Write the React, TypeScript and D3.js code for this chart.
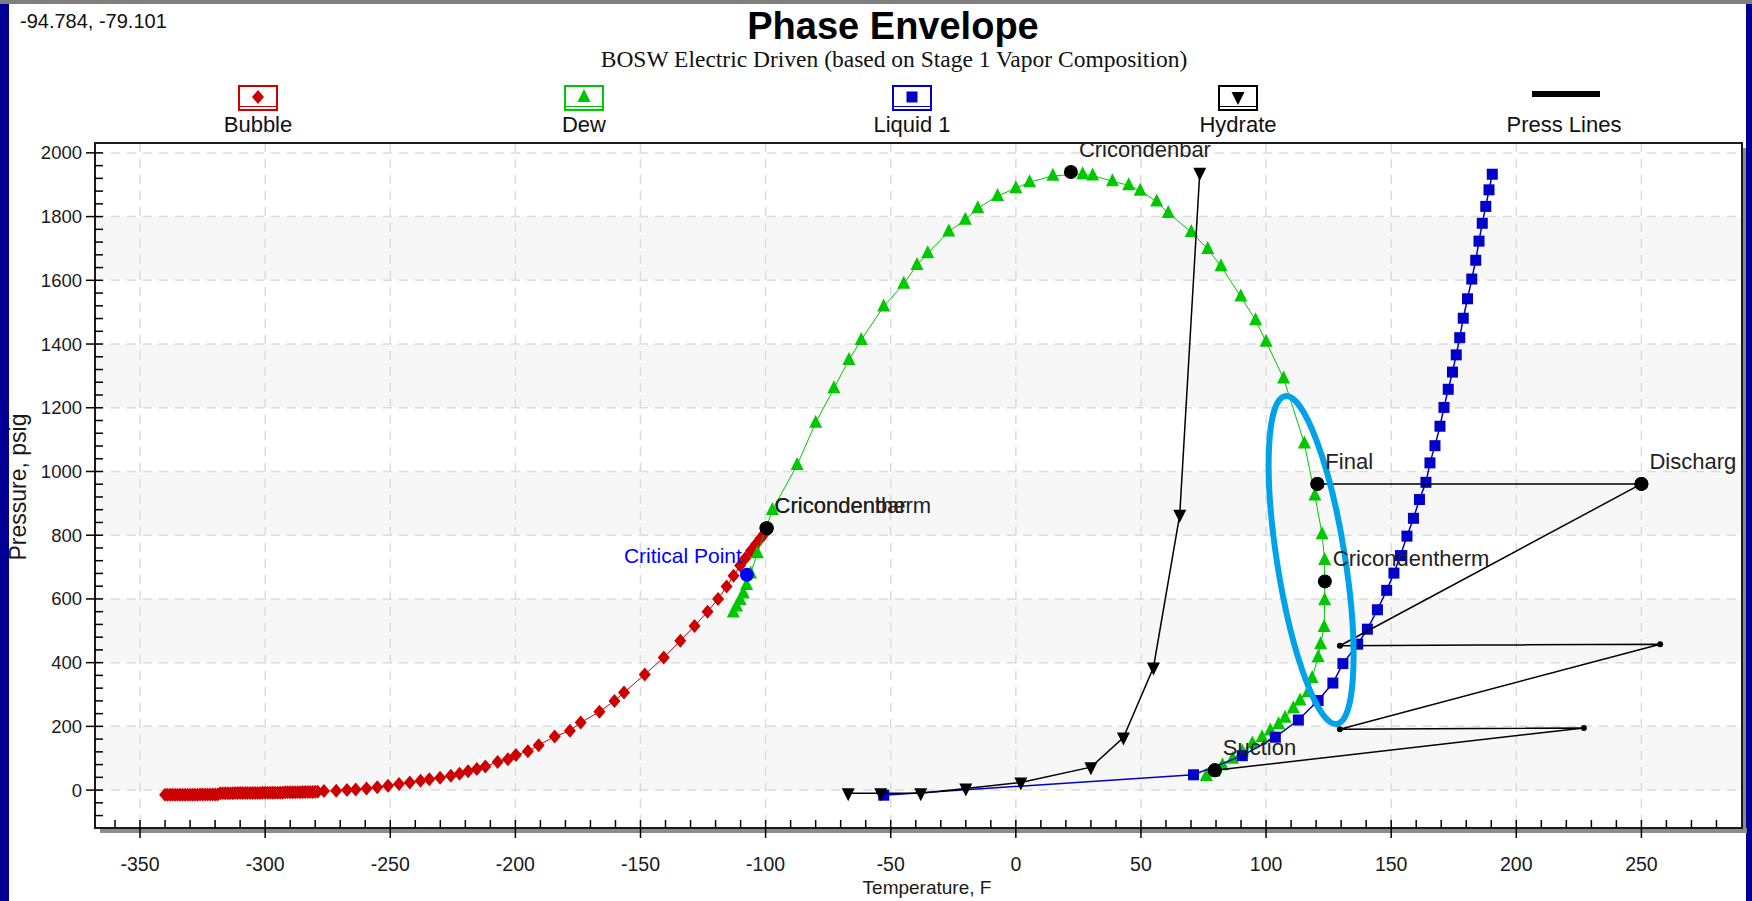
import * as d3 from 'd3';
import React from 'react';

// --- chart values ---
const coordText = '-94.784, -79.101';
const chartTitle = 'Phase Envelope';
const chartSubtitle = 'BOSW Electric Driven (based on Stage 1 Vapor Composition)';
const legendNames = ['Bubble', 'Dew', 'Liquid 1', 'Hydrate', 'Press Lines'];

const xTicks = [-350, -300, -250, -200, -150, -100, -50, 0, 50, 100, 150, 200, 250];
const yTicks = [0, 200, 400, 600, 800, 1000, 1200, 1400, 1600, 1800, 2000];

// Bubble curve (red diamonds) - very dense at the cold end
const bubbleT = [-340, -339, -338, -337, -336, -335, -334, -333, -332, -331, -330, -329, -328, -327, -326, -325, -324,
  -323, -322, -321, -320, -319, -318, -317, -316, -315, -314, -313, -312, -311, -310, -309, -308, -307, -306, -305,
  -304, -303, -302, -301, -300, -299, -298, -297, -296, -295, -294, -293, -292, -291, -290, -289, -288, -287, -286,
  -285, -284, -283, -282, -281, -280, -279, -276.5, -271.6, -267.3, -263.8, -259.5, -255.2, -250.9, -246.5, -242.2,
  -237.9, -234.4, -230.1, -225.8, -222.3, -218.9, -215.4, -212, -207.1, -203, -199.8, -195, -190.7, -184.3, -178.2,
  -173.9, -166.4, -160.4, -156.6, -148.3, -140.7, -134.1, -128.4, -123.2, -119, -115.6, -112.8, -110.2, -108.1,
  -105.9, -103.8, -101.9, -100.7];
const bubbleP = [-15, -15, -15, -15, -15, -15, -15, -15, -15, -15, -15, -15, -15, -15, -14, -14, -14, -14, -14, -14,
  -14, -14, -10, -10, -10, -10, -10, -10, -9, -9, -9, -9, -9, -9, -9, -9, -9, -9, -9, -8, -8, -8, -8, -8, -8, -8, -8,
  -8, -7, -7, -7, -7, -7, -7, -7, -6, -6, -6, -6, -6, -5, -5, -3, -2, 0, 2, 5, 9, 14, 19, 24, 29, 34, 39, 45, 51, 59,
  66, 74, 88, 97, 110, 122, 141, 168, 186, 212, 246, 280, 306, 363, 416, 469, 515, 560, 600, 639, 673, 705, 728, 751,
  772, 791, 803];

// Dew curve (green triangles)
const dewT = [-112.9, -111.6, -110.2, -108.9, -107.6, -106, -103.3, -97.3, -87.4, -80, -72.7, -66.7, -61.8, -52.8,
  -44.8, -39.5, -35.2, -26.8, -20.2, -15.2, -7.3, 0, 5.5, 14.8, 26.7, 30.7, 38.6, 45.1, 49.7, 56.3, 60.9, 70.1, 76.7,
  82, 89.9, 95.8, 100, 107, 115.3, 119.5, 122.4, 123.4, 123.4, 123.2, 121.8, 120.8, 118.4, 116.8, 113.6, 110.9, 107.6,
  105, 101.7, 98.4, 94.5, 90.5, 86.6, 82.6, 79.3, 76.1];
const dewP = [557, 576, 597, 617, 644, 680, 743, 879, 1020, 1153, 1261, 1350, 1413, 1518, 1589, 1648, 1685, 1753, 1790,
  1826, 1865, 1889, 1908, 1928, 1933, 1929, 1911, 1898, 1881, 1847, 1811, 1752, 1698, 1644, 1549, 1475, 1407, 1292,
  1088, 925, 803, 722, 596, 512, 458, 417, 352, 308, 281, 257, 227, 207, 187, 166, 146, 121, 98, 78, 58, 44];

// Liquid 1 (blue squares)
const liquidT = [-52.8, 71, 90.5, 103.7, 112.9, 120.8, 126.7, 130.7, 136.6, 140.5, 144.5, 148.2, 151.1, 153.7, 156.3,
  158.9, 161.3, 163.9, 165.5, 167.5, 169.5, 171.1, 172.8, 174.5, 176, 177.4, 178.8, 180.5, 182.2, 183.8, 185.1, 186.4,
  187.8, 189.1, 190.4];
const liquidP = [-16, 48, 108, 166, 220, 281, 336, 397, 458, 505, 566, 627, 681, 736, 797, 853, 912, 966, 1027, 1081,
  1142, 1201, 1258, 1312, 1366, 1420, 1481, 1542, 1604, 1663, 1723, 1779, 1832, 1884, 1933];

// Hydrate (black down triangles)
const hydrateT = [-67, -54, -38, -20, 2, 30, 43, 55, 65.5, 73.5];
const hydrateP = [-10, -10, -10, 5, 24, 72, 165, 385, 864, 1938];

// Compressor press lines: Final -> Discharge -> ... -> Suction
const pressT = [120.5, 250, 129.5, 257.5, 129.5, 227, 79.5];
const pressP = [961, 961, 453, 458, 191, 195, 62];
const pressBig = [true, true, false, false, false, false, true];

// Labelled points
const keyNames = ['Cricondenbar', 'Cricondentherm', 'Cricondenbar', 'Cricondentherm', 'Final', 'Discharge', 'Suction'];
const keyT = [22, -99.6, -99.6, 123.5, 120.5, 250, 79.5];
const keyP = [1940, 822, 822, 655, 961, 961, 62];
const criticalName = 'Critical Point';
const criticalT = -107.5;
const criticalP = 676;

// highlight ellipse (centre in data units)
const ringT = 118;
const ringP = 722;

const W = 1752;
const H = 901;
const M = { left: 95, top: 143, right: 1742, bottom: 828 };
const FONT = '"Liberation Sans", Arial, sans-serif';

const RED = '#cc0000';
const GREEN = '#00c800';
const BLUE = '#0000c8';

const x = d3.scaleLinear().domain([-368, 290.2]).range([M.left, M.right]);
const y = d3.scaleLinear().domain([-119, 2031]).range([M.bottom, M.top]);

const zip = (a: number[], b: number[]) => a.map((v, i) => [v, b[i]] as [number, number]);
const line = d3.line<[number, number]>().x(d => x(d[0])).y(d => y(d[1]));

function marker(kind: string, cx: number, cy: number, color: string, key: any) {
  if (kind === 'diamond')
    return <path key={key} d={`M${cx},${cy - 7}L${cx + 6},${cy}L${cx},${cy + 7}L${cx - 6},${cy}Z`} fill={color} />;
  if (kind === 'up')
    return <path key={key} d={`M${cx},${cy - 8}L${cx + 6.5},${cy + 5}L${cx - 6.5},${cy + 5}Z`} fill={color} />;
  if (kind === 'down')
    return <path key={key} d={`M${cx},${cy + 8}L${cx + 6.5},${cy - 5}L${cx - 6.5},${cy - 5}Z`} fill={color} />;
  if (kind === 'square')
    return <rect key={key} x={cx - 5.5} y={cy - 5.5} width={11} height={11} fill={color} />;
  if (kind === 'small')
    return <circle key={key} cx={cx} cy={cy} r={3} fill={color} />;
  return <circle key={key} cx={cx} cy={cy} r={7} fill={color} />;
}

function Series({ t, p, color, kind, width = 1 }: any) {
  const pts = zip(t, p);
  return (
    <g>
      <path d={line(pts) || ''} fill="none" stroke={color} strokeWidth={width} />
      {pts.map((d, i) => marker(kind, x(d[0]), y(d[1]), color, i))}
    </g>
  );
}

export default function App() {
  const xMinor = d3.range(-360, 290, 10);
  const yMinor = d3.range(-80, 2031, 40);
  const legendX = [258, 584, 912, 1238, 1564];
  const legendColors = [RED, GREEN, BLUE, '#000', '#000'];
  const legendKinds = ['diamond', 'up', 'square', 'down', 'line'];
  const bands = yTicks.slice(0, -1).filter((_, i) => i % 2 === 0);

  return (
    <div>
      <style>{`body{margin:0}`}</style>
      <svg width={W} height={H} style={{ display: 'block', background: '#fff' }} fontFamily={FONT}>
        <defs>
          <clipPath id="plotClip">
            <rect x={M.left} y={M.top} width={M.right - M.left} height={M.bottom - M.top} />
          </clipPath>
          <clipPath id="labelClip">
            <rect x={M.left} y={M.top} width={M.right - M.left - 5} height={M.bottom - M.top} />
          </clipPath>
        </defs>

        {/* window chrome */}
        <rect x={0} y={0} width={9} height={H} fill="#000096" />
        <rect x={W - 6} y={0} width={6} height={H} fill="#000096" />
        <rect x={0} y={0} width={W} height={4} fill="#7f7f7f" />

        <text x={20} y={28} fontSize={20} fill="#111">{coordText}</text>
        <text x={893} y={39} fontSize={38} fontWeight="bold" textAnchor="middle" fill="#000">{chartTitle}</text>
        <text x={894} y={67} fontSize={23.5} textAnchor="middle" fontFamily='"Liberation Serif", "Times New Roman", serif' fill="#111">
          {chartSubtitle}
        </text>

        {/* legend */}
        {legendNames.map((name, i) => {
          const cx = legendX[i];
          const c = legendColors[i];
          return (
            <g key={name}>
              {legendKinds[i] === 'line' ? (
                <line x1={cx - 32} x2={cx + 36} y1={94} y2={94} stroke="#000" strokeWidth={6} />
              ) : (
                <g>
                  <rect x={cx - 19} y={86} width={38} height={24} fill="#fff" stroke={c} strokeWidth={2} />
                  <line x1={cx - 18} x2={cx + 18} y1={106.5} y2={106.5} stroke={c} strokeWidth={1.2} />
                  {marker(legendKinds[i], cx, 97, c, 'm')}
                </g>
              )}
              <text x={cx} y={132} fontSize={22} textAnchor="middle" fill="#111">{name}</text>
            </g>
          );
        })}

        {/* plot background bands */}
        {bands.map(b => (
          <rect key={b} x={M.left} y={y(b + 200)} width={M.right - M.left} height={y(b) - y(b + 200)} fill="#f7f7f7" />
        ))}

        {/* grid */}
        {xTicks.map(t => (
          <line key={'gx' + t} x1={x(t)} x2={x(t)} y1={M.top} y2={M.bottom} stroke="#dcdcdc" strokeWidth={1.5} strokeDasharray="9,7" />
        ))}
        {yTicks.map(t => (
          <line key={'gy' + t} x1={M.left} x2={M.right} y1={y(t)} y2={y(t)} stroke="#dcdcdc" strokeWidth={1.5} strokeDasharray="9,7" />
        ))}

        {/* data */}
        <g clipPath="url(#plotClip)">
          <Series t={bubbleT} p={bubbleP} color={RED} kind="diamond" />
          <Series t={dewT} p={dewP} color={GREEN} kind="up" />
          <Series t={liquidT} p={liquidP} color={BLUE} kind="square" width={1.5} />
          <Series t={hydrateT} p={hydrateP} color="#000" kind="down" width={1.5} />
          <path d={line(zip(pressT, pressP)) || ''} fill="none" stroke="#000" strokeWidth={1.5} />
          {pressT.map((t, i) => marker(pressBig[i] ? 'dot' : 'small', x(t), y(pressP[i]), '#000', 'pp' + i))}
          {keyT.map((t, i) => marker('dot', x(t), y(keyP[i]), '#000', 'kp' + i))}
          {marker('dot', x(criticalT), y(criticalP), '#0000ff', 'crit')}
          <ellipse cx={x(ringT)} cy={y(ringP)} rx={34} ry={166} fill="none" stroke="#00a2e8" strokeWidth={6}
            transform={`rotate(-9 ${x(ringT)} ${y(ringP)})`} />
        </g>
        <g clipPath="url(#labelClip)">
          {keyNames.map((n, i) => (
            <text key={'kl' + i} x={x(keyT[i]) + 8} y={y(keyP[i]) - 15} fontSize={22} fill="#222">{n}</text>
          ))}
          <text x={x(criticalT) - 5} y={y(criticalP) - 12} fontSize={21} fill="#0000ff" textAnchor="end">{criticalName}</text>
        </g>

        {/* frame + shadow */}
        <rect x={M.left + 5} y={M.bottom} width={M.right - M.left} height={5} fill="#8c8c8c" />
        <rect x={M.right} y={M.top + 5} width={4} height={M.bottom - M.top} fill="#8c8c8c" />
        <rect x={M.left} y={M.top} width={M.right - M.left} height={M.bottom - M.top} fill="none" stroke="#1a1a1a" strokeWidth={2} />

        {/* x axis ticks */}
        {xMinor.map(t => (
          <line key={'xm' + t} x1={x(t)} x2={x(t)} y1={M.bottom} y2={M.bottom - 8} stroke="#000" strokeWidth={1.5} />
        ))}
        {xTicks.map(t => (
          <g key={'xt' + t}>
            <line x1={x(t)} x2={x(t)} y1={M.bottom} y2={M.bottom + 10} stroke="#000" strokeWidth={1.5} />
            <text x={x(t)} y={871} fontSize={19.5} textAnchor="middle" fill="#1a1a1a">{t}</text>
          </g>
        ))}
        {/* y axis ticks */}
        {yMinor.map(t => (
          <line key={'ym' + t} x1={M.left} x2={M.left + 8} y1={y(t)} y2={y(t)} stroke="#000" strokeWidth={1.5} />
        ))}
        {yTicks.map(t => (
          <g key={'yt' + t}>
            <line x1={M.left - 9} x2={M.left} y1={y(t)} y2={y(t)} stroke="#000" strokeWidth={1.5} />
            <text x={82} y={y(t) + 6.5} fontSize={18.5} textAnchor="end" fill="#1a1a1a">{t}</text>
          </g>
        ))}

        <text x={927} y={894} fontSize={19} textAnchor="middle" fill="#1a1a1a">Temperature, F</text>
        <text transform="translate(26,487) rotate(-90)" fontSize={23} textAnchor="middle" fill="#1a1a1a">Pressure, psig</text>
      </svg>
    </div>
  );
}
